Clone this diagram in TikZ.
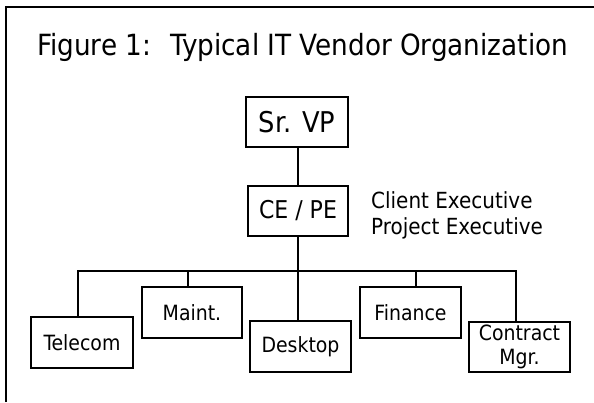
\documentclass[tikz,border=0pt]{standalone}
\usepackage{fontspec}
\setmainfont{DejaVu Sans Condensed}
\begin{document}
\begin{tikzpicture}[x=1pt, y=-1pt,
    box/.style={draw, line width=1.3pt, inner sep=0pt, minimum width=101pt, minimum height=51pt, align=center, font=\fontsize{21}{24}\selectfont},
    link/.style={line width=1.3pt}]
  \useasboundingbox (0,0) rectangle (594,402);
  \draw[line width=2pt] (6,402) -- (6,7) -- (594,7);
  \node[anchor=base west, inner sep=0pt, font=\fontsize{29.2}{34}\selectfont] (title) at (37,55) {Figure 1:~ Typical IT Vendor Organization};
  \node[box, minimum width=102pt, minimum height=50pt, font=\fontsize{28.6}{33}\selectfont] (vp) at (297,122) {Sr. VP};
  \node[box, minimum width=100pt, minimum height=50pt, font=\fontsize{24.5}{27}\selectfont] (ce) at (298,211) {CE / PE};
  \node[anchor=base west, inner sep=0pt, font=\fontsize{22.2}{26}\selectfont] (client) at (371,208) {Client Executive};
  \node[anchor=base west, inner sep=0pt, font=\fontsize{22.2}{26}\selectfont] (project) at (371,234) {Project Executive};
  \node[box, minimum width=102pt] (telecom) at (82,342.5) {Telecom};
  \node[box, minimum width=100pt] (maint) at (192,312.5) {Maint.};
  \node[box] (desktop) at (300.5,346.5) {Desktop};
  \node[box] (finance) at (410.5,312.5) {Finance};
  \node[box, minimum height=50pt] (contract) at (519.5,347) {Contract\\Mgr.};
  \coordinate (bus) at (298,271);
  \draw[link] (ce.north -| 298,0) -- (vp.south -| 298,0);
  \draw[link] (ce.south) -- (desktop.north -| ce.south);
  \draw[link] ([xshift=-4pt]telecom.north) |- (bus) -| ([xshift=-3.5pt]contract.north);
  \draw[link] ([xshift=-4pt]maint.north) -- ([xshift=-4pt]maint.north |- bus);
  \draw[link] ([xshift=5.5pt]finance.north) -- ([xshift=5.5pt]finance.north |- bus);
\end{tikzpicture}
\end{document}
